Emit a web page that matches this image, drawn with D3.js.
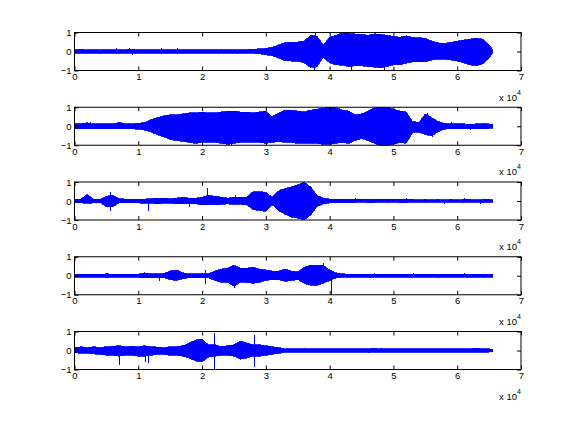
<!DOCTYPE html>
<html>
<head>
<meta charset="utf-8">
<script src="https://cdn.jsdelivr.net/npm/d3@7"></script>
<style>
  html, body { margin: 0; padding: 0; background: #fff; }
  svg text { font-family: "Liberation Sans", Arial, Helvetica, sans-serif; font-size: 9.5px; fill: #000; }
</style>
</head>
<body>
<script>
'use strict';

// envelope of each signal, one value per 1000 samples (0..65000) plus the last sample 65536
const envSamples = d3.range(0, 66000, 1000).concat([65536]);

const hi1 = [0.09,0.12,0.09,0.08,0.1,0.09,0.1,0.08,0.1,0.12,0.09,0.08,0.09,0.1,0.1,0.09,0.1,0.09,0.08,0.09,
  0.1,0.09,0.1,0.1,0.1,0.1,0.1,0.1,0.12,0.14,0.16,0.22,0.35,0.46,0.5,0.5,0.55,0.85,0.8,0.35,
  0.75,0.85,0.98,0.95,0.92,0.9,0.85,0.93,0.9,0.85,0.8,0.75,0.82,0.75,0.72,0.7,0.55,0.45,0.42,0.48,
  0.55,0.6,0.65,0.7,0.65,0.35,0.1];
const lo1 = [-0.08,-0.09,-0.08,-0.08,-0.09,-0.08,-0.09,-0.08,-0.09,-0.1,-0.08,-0.08,-0.09,-0.09,-0.08,-0.09,-0.09,-0.08,-0.08,-0.09,
  -0.09,-0.08,-0.09,-0.09,-0.09,-0.1,-0.09,-0.09,-0.1,-0.12,-0.18,-0.22,-0.35,-0.48,-0.5,-0.5,-0.6,-0.85,-0.8,-0.32,
  -0.6,-0.7,-0.72,-0.8,-0.75,-0.75,-0.8,-0.82,-0.85,-0.8,-0.7,-0.7,-0.62,-0.55,-0.55,-0.55,-0.45,-0.4,-0.4,-0.45,
  -0.5,-0.6,-0.7,-0.75,-0.65,-0.35,-0.1];
const spikes1 = [[1000,0.15],[4000,-0.14],[6500,0.16],[8500,0.2],[9000,-0.2],[13500,0.2],[16000,0.18],
  [23000,0.15],[25500,-0.15],[37700,0.97],[37600,-0.95],[43300,-1.0],[48500,-0.95]];

const hi2 = [0.12,0.14,0.18,0.12,0.13,0.14,0.12,0.2,0.13,0.14,0.15,0.2,0.35,0.45,0.55,0.6,0.6,0.65,0.7,0.7,
  0.75,0.7,0.7,0.75,0.8,0.8,0.75,0.75,0.7,0.75,0.8,0.5,0.7,0.85,0.85,0.8,0.75,0.85,0.9,0.95,
  1.0,0.98,0.85,0.8,0.6,0.65,0.8,0.98,1.0,1.0,0.9,0.8,0.75,0.25,0.2,0.65,0.45,0.25,0.15,0.12,
  0.12,0.12,0.11,0.12,0.13,0.12,0.1];
const lo2 = [-0.12,-0.13,-0.14,-0.12,-0.13,-0.14,-0.12,-0.14,-0.13,-0.14,-0.15,-0.2,-0.3,-0.45,-0.55,-0.7,-0.75,-0.8,-0.85,-0.9,
  -0.85,-0.85,-0.85,-0.9,-0.95,-0.9,-0.85,-0.85,-0.85,-0.85,-0.9,-0.85,-0.8,-0.85,-0.85,-0.9,-0.9,-0.9,-0.9,-0.95,
  -0.95,-0.9,-0.85,-0.9,-0.75,-0.65,-0.75,-0.9,-1.0,-1.0,-0.95,-0.85,-0.9,-0.35,-0.3,-0.45,-0.5,-0.3,-0.15,-0.13,
  -0.12,-0.13,-0.12,-0.12,-0.13,-0.12,-0.1];
const spikes2 = [[2500,0.25],[7000,0.22],[24500,-1.0],[55200,0.7],[56000,-0.55],[59000,0.2],[62000,-0.2],[64000,0.15]];

const hi3 = [0.08,0.1,0.35,0.1,0.08,0.25,0.3,0.12,0.1,0.1,0.1,0.1,0.12,0.15,0.15,0.12,0.15,0.2,0.15,0.15,
  0.2,0.3,0.25,0.2,0.15,0.2,0.2,0.2,0.5,0.5,0.45,0.2,0.55,0.65,0.75,0.85,1.0,0.75,0.3,0.15,
  0.1,0.1,0.08,0.1,0.08,0.08,0.08,0.1,0.08,0.08,0.08,0.08,0.1,0.08,0.07,0.08,0.07,0.08,0.07,0.08,
  0.07,0.08,0.08,0.07,0.08,0.08,0.07];
const lo3 = [-0.08,-0.1,-0.12,-0.1,-0.08,-0.3,-0.3,-0.1,-0.1,-0.1,-0.1,-0.12,-0.12,-0.15,-0.12,-0.12,-0.15,-0.15,-0.15,-0.15,
  -0.2,-0.2,-0.2,-0.18,-0.15,-0.18,-0.18,-0.2,-0.45,-0.5,-0.55,-0.2,-0.5,-0.7,-0.85,-0.9,-1.0,-0.75,-0.3,-0.15,
  -0.1,-0.08,-0.08,-0.08,-0.08,-0.07,-0.08,-0.08,-0.07,-0.08,-0.07,-0.08,-0.08,-0.07,-0.07,-0.08,-0.07,-0.07,-0.08,-0.07,
  -0.07,-0.08,-0.07,-0.07,-0.08,-0.07,-0.07];
const spikes3 = [[5600,0.5],[5600,-0.5],[11500,-0.5],[17900,-0.3],[20800,0.7],[25200,0.3],[44000,0.15],
  [52000,0.16],[58000,-0.15],[61000,0.15],[63500,-0.14]];

const hi4 = [0.07,0.08,0.07,0.07,0.07,0.1,0.08,0.07,0.08,0.08,0.08,0.15,0.1,0.1,0.12,0.25,0.3,0.15,0.1,0.1,
  0.12,0.1,0.25,0.35,0.4,0.55,0.4,0.4,0.45,0.35,0.3,0.25,0.25,0.35,0.25,0.2,0.45,0.55,0.55,0.55,
  0.3,0.15,0.1,0.08,0.08,0.08,0.07,0.07,0.08,0.07,0.07,0.07,0.08,0.07,0.07,0.07,0.08,0.07,0.07,0.08,
  0.07,0.07,0.08,0.07,0.07,0.07,0.07];
const lo4 = [-0.07,-0.07,-0.07,-0.07,-0.07,-0.1,-0.08,-0.07,-0.07,-0.08,-0.08,-0.12,-0.1,-0.1,-0.1,-0.2,-0.25,-0.15,-0.1,-0.1,
  -0.1,-0.1,-0.25,-0.35,-0.35,-0.55,-0.35,-0.35,-0.4,-0.35,-0.25,-0.2,-0.2,-0.3,-0.25,-0.2,-0.4,-0.5,-0.5,-0.4,
  -0.25,-0.12,-0.08,-0.08,-0.07,-0.07,-0.07,-0.07,-0.07,-0.07,-0.07,-0.07,-0.07,-0.07,-0.07,-0.07,-0.07,-0.07,-0.07,-0.07,
  -0.07,-0.07,-0.07,-0.07,-0.07,-0.07,-0.07];
const spikes4 = [[13300,-0.3],[20500,0.3],[20500,-0.45],[25000,-0.65],[39000,0.65],[40200,-1.0],
  [47000,0.12],[53000,0.12],[57000,-0.12],[61000,0.12],[64000,-0.12]];

const hi5 = [0.15,0.2,0.15,0.2,0.15,0.2,0.22,0.25,0.2,0.22,0.2,0.25,0.2,0.18,0.15,0.2,0.2,0.25,0.4,0.55,
  0.6,0.3,0.3,0.2,0.25,0.3,0.5,0.4,0.3,0.3,0.25,0.2,0.15,0.09,0.09,0.08,0.09,0.08,0.09,0.09,
  0.09,0.08,0.09,0.09,0.08,0.09,0.09,0.12,0.09,0.08,0.09,0.09,0.08,0.09,0.09,0.08,0.09,0.09,0.08,0.09,
  0.09,0.08,0.09,0.12,0.09,0.08,0.07];
const lo5 = [-0.12,-0.15,-0.15,-0.18,-0.2,-0.25,-0.25,-0.3,-0.25,-0.25,-0.3,-0.3,-0.25,-0.2,-0.2,-0.25,-0.25,-0.3,-0.4,-0.55,
  -0.6,-0.35,-0.3,-0.25,-0.25,-0.3,-0.45,-0.4,-0.3,-0.3,-0.25,-0.2,-0.15,-0.09,-0.09,-0.08,-0.09,-0.08,-0.09,-0.08,
  -0.09,-0.08,-0.09,-0.08,-0.08,-0.09,-0.08,-0.1,-0.08,-0.08,-0.09,-0.08,-0.08,-0.09,-0.08,-0.08,-0.09,-0.08,-0.08,-0.09,
  -0.08,-0.08,-0.09,-0.1,-0.09,-0.08,-0.07];
const spikes5 = [[3000,-0.2],[7000,-0.75],[11000,-0.6],[11500,-0.65],[21800,0.9],[21800,-1.0],
  [28100,0.8],[28100,-0.85],[36000,0.15],[46000,-0.15],[48000,0.15],[63000,0.14]];

const xTicks = [0, 1, 2, 3, 4, 5, 6, 7];   // in units of 10^4
const yTicks = [-1, 0, 1];

const signals = [
  {hi: hi1, lo: lo1, spikes: spikes1},
  {hi: hi2, lo: lo2, spikes: spikes2},
  {hi: hi3, lo: lo3, spikes: spikes3},
  {hi: hi4, lo: lo4, spikes: spikes4},
  {hi: hi5, lo: lo5, spikes: spikes5}
];

const m = {
  width: 576,
  height: 432,
  left: 74.5,
  right: 521,
  top: 32.5,
  step: 74.75,
  axH: 38
};

const svg = d3.select('body')
  .append('svg')
  .attr('width', m.width)
  .attr('height', m.height)
  .style('display', 'block');

svg.append('rect')
  .attr('width', m.width)
  .attr('height', m.height)
  .attr('fill', '#fff');

const xScale = d3.scaleLinear()
  .domain([0, 70000])
  .range([m.left, m.right]);

signals.forEach((sig, k) => drawPanel(sig, k));

function drawPanel(sig, k) {
  const y0 = m.top + k * m.step;
  const yScale = d3.scaleLinear()
    .domain([-1, 1])
    .range([y0 + m.axH, y0]);

  const g = svg.append('g').attr('class', 'panel');

  const rows = envSamples.map((s, i) => ({s: s, hi: sig.hi[i], lo: sig.lo[i]}));

  // waveform envelope
  const area = d3.area()
    .x((d) => xScale(d.s))
    .y0((d) => yScale(d.lo))
    .y1((d) => yScale(d.hi));

  g.append('path')
    .datum(rows)
    .attr('d', area)
    .attr('fill', '#0000ff')
    .attr('stroke', '#0000ff')
    .attr('stroke-width', 0.8)
    .attr('shape-rendering', 'crispEdges');

  // single-sample spikes
  g.selectAll('.spike')
    .data(sig.spikes)
    .enter()
    .append('line')
    .attr('class', 'spike')
    .attr('x1', (d) => Math.round(xScale(d[0])) + 0.5)
    .attr('x2', (d) => Math.round(xScale(d[0])) + 0.5)
    .attr('y1', yScale(0))
    .attr('y2', (d) => yScale(d[1]))
    .attr('stroke', '#0000ff')
    .attr('stroke-width', 1)
    .attr('shape-rendering', 'crispEdges');

  // axes, MATLAB style: ticks inside, box around
  const xAxis = d3.axisBottom(d3.scaleLinear().domain([0, 7]).range([m.left, m.right]))
    .tickValues(xTicks)
    .tickSizeInner(-4)
    .tickSizeOuter(0)
    .tickPadding(3)
    .tickFormat(d3.format('d'));

  const yAxis = d3.axisLeft(yScale)
    .tickValues(yTicks)
    .tickSizeInner(-4)
    .tickSizeOuter(0)
    .tickPadding(3)
    .tickFormat((d) => d < 0 ? '\u2212' + Math.abs(d) : String(d));

  g.append('g')
    .attr('transform', 'translate(0,' + (y0 + m.axH) + ')')
    .call(xAxis);

  g.append('g')
    .attr('transform', 'translate(' + m.left + ',0)')
    .call(yAxis);

  // mirrored ticks on top and right
  g.append('g')
    .attr('transform', 'translate(0,' + y0 + ')')
    .call(d3.axisTop(d3.scaleLinear().domain([0, 7]).range([m.left, m.right]))
      .tickValues(xTicks).tickSizeInner(-4).tickSizeOuter(0).tickFormat(''));

  g.append('g')
    .attr('transform', 'translate(' + m.right + ',0)')
    .call(d3.axisRight(yScale)
      .tickValues(yTicks).tickSizeInner(-4).tickSizeOuter(0).tickFormat(''));

  g.selectAll('.domain').remove();
  g.selectAll('.tick line').attr('stroke', '#000');
  g.selectAll('.tick text')
    .style('font-family', '"Liberation Sans", Arial, sans-serif')
    .style('font-size', '9.5px');

  g.append('rect')
    .attr('x', m.left)
    .attr('y', y0)
    .attr('width', m.right - m.left)
    .attr('height', m.axH)
    .attr('fill', 'none')
    .attr('stroke', '#000')
    .attr('stroke-width', 1);

  // exponent label
  const ex = g.append('text')
    .attr('x', 499)
    .attr('y', y0 + m.axH + 30);
  ex.append('tspan').text('x 10');
  ex.append('tspan')
    .attr('dy', -6)
    .style('font-size', '7px')
    .text('4');
}
</script>
</body>
</html>
